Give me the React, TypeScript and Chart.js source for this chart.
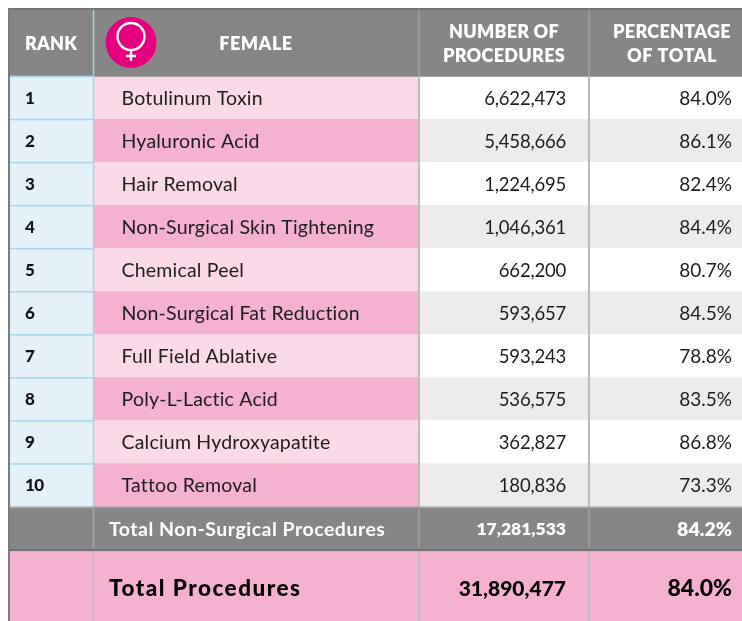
import React, { useEffect, useRef } from "react";
import { Chart, registerables } from "chart.js";

Chart.register(...registerables);

// ---- data ----
const ranks = ["1", "2", "3", "4", "5", "6", "7", "8", "9", "10"];
const procedures = [
  "Botulinum Toxin",
  "Hyaluronic Acid",
  "Hair Removal",
  "Non-Surgical Skin Tightening",
  "Chemical Peel",
  "Non-Surgical Fat Reduction",
  "Full Field Ablative",
  "Poly-L-Lactic Acid",
  "Calcium Hydroxyapatite",
  "Tattoo Removal",
];
const counts = [6622473, 5458666, 1224695, 1046361, 662200, 593657, 593243, 536575, 362827, 180836];
const percents = [84.0, 86.1, 82.4, 84.4, 80.7, 84.5, 78.8, 83.5, 86.8, 73.3];
const subtotalLabel = "Total Non-Surgical Procedures";
const subtotalCount = 17281533;
const subtotalPercent = 84.2;
const totalLabel = "Total Procedures";
const totalCount = 31890477;
const totalPercent = 84.0;
const headerRank = "RANK";
const headerName = "FEMALE";
const headerCount = ["NUMBER OF", "PROCEDURES"];
const headerPercent = ["PERCENTAGE", "OF TOTAL"];

// ---- layout (axis units equal table pixels) ----
const colEdges = [9, 93.5, 419, 589, 742];
const headerTop = 9;
const headerBottom = 76.5;
const rowHeight = 43.05;
const rowTop = (i: number) => headerBottom + i * rowHeight;
const rowsBottom = rowTop(ranks.length);
const subBottom = rowsBottom + rowHeight;
const tableBottom = 621;

const GRAY = "#868686";
const RANKBG = "#e4f1f9";
const PINK_L = "#fad9e9";
const PINK_D = "#f4b1d0";
const GRAY_L = "#ececec";
const BLUE = "#a9d4e9";
const RULE = "#bcbcbc";
const FONT = "Lato";

const fmt = (n: number) => n.toLocaleString("en-US");
const pct = (n: number) => n.toFixed(1) + "%";

const band = (label: string, color: string | string[], thickness: number, data: any[]) => ({
  label,
  data,
  backgroundColor: color,
  barThickness: thickness,
  grouped: false,
  borderWidth: 0,
});

export default function App() {
  const ref = useRef<HTMLCanvasElement>(null);

  useEffect(() => {
    const rowCenters = ranks.map((_, i) => rowTop(i) + rowHeight / 2);
    const tablePlugin = {
      id: "tableText",
      afterDatasetsDraw(chart: any) {
        const { ctx, scales } = chart;
        const X = (v: number) => scales.x.getPixelForValue(v);
        const Y = (v: number) => scales.y.getPixelForValue(v);
        const vline = (x: number, y0: number, y1: number, c: string, w = 2) => {
          ctx.fillStyle = c;
          ctx.fillRect(X(x) - w / 2, Y(y0), w, Y(y1) - Y(y0));
        };
        const hline = (x0: number, x1: number, y: number, c: string, w = 1.5) => {
          ctx.fillStyle = c;
          ctx.fillRect(X(x0), Y(y) - w / 2, X(x1) - X(x0), w);
        };
        const text = (
          s: string,
          x: number,
          y: number,
          font: string,
          color: string,
          align: CanvasTextAlign = "left",
          spacing = "0px",
        ) => {
          ctx.font = font;
          ctx.fillStyle = color;
          ctx.textAlign = align;
          ctx.textBaseline = "middle";
          (ctx as any).letterSpacing = spacing;
          ctx.fillText(s, X(x), Y(y));
          (ctx as any).letterSpacing = "0px";
        };

        ctx.save();
        // rules
        vline(colEdges[1], headerTop, rowsBottom, BLUE, 1.5);
        vline(colEdges[1], rowsBottom, tableBottom, RULE, 1.5);
        vline(colEdges[2], headerTop, tableBottom, RULE, 2);
        vline(colEdges[3], headerTop, tableBottom, RULE, 2);
        vline(colEdges[2], headerTop, headerBottom, "#9a9a9a", 2);
        vline(colEdges[3], headerTop, headerBottom, "#9a9a9a", 2);
        vline(colEdges[2], rowsBottom, subBottom, "#9a9a9a", 2);
        vline(colEdges[3], rowsBottom, subBottom, "#9a9a9a", 2);
        vline(colEdges[1], rowsBottom, subBottom, "#a0a0a0", 1.5);
        for (let i = 0; i <= ranks.length - 1; i++) {
          hline(colEdges[0], colEdges[1], rowTop(i), BLUE);
        }
        hline(colEdges[0] - 1, colEdges[4], headerTop, "#747474", 2);
        hline(colEdges[0] - 1, colEdges[4], subBottom, "#737373", 2);
        hline(colEdges[0] - 1, colEdges[4], rowsBottom, "#9a9a9a", 1);
        vline(colEdges[0], headerTop, tableBottom, "#7c7c7c", 2);

        // icon
        const cx = X(131);
        const cy = Y(42.5);
        ctx.fillStyle = "#e6007e";
        ctx.beginPath();
        ctx.arc(cx, cy, 25.5, 0, Math.PI * 2);
        ctx.fill();
        ctx.strokeStyle = "#ffffff";
        ctx.lineWidth = 2.4;
        ctx.beginPath();
        ctx.arc(cx, Y(36.5), 13.5, 0, Math.PI * 2);
        ctx.stroke();
        ctx.beginPath();
        ctx.moveTo(cx, Y(50));
        ctx.lineTo(cx, Y(61));
        ctx.moveTo(cx - 5, Y(56));
        ctx.lineTo(cx + 5, Y(56));
        ctx.stroke();

        // header
        const hb = `800 18px ${FONT}`;
        text(headerRank, 51, 44, hb, "#ffffff", "center", "0.2px");
        text(headerName, 256, 44, hb, "#ffffff", "center", "0.5px");
        text(headerCount[0], 504, 32.5, hb, "#ffffff", "center", "0.2px");
        text(headerCount[1], 504, 56, hb, "#ffffff", "center", "0.3px");
        text(headerPercent[0], 672, 32.5, hb, "#ffffff", "center", "0.3px");
        text(headerPercent[1], 672, 56, hb, "#ffffff", "center", "0.5px");

        // rows
        ranks.forEach((r, i) => {
          const y = rowCenters[i];
          text(r, 25, y + 0.5, `900 17px ${FONT}`, "#111111", "left", "-0.5px");
          text(procedures[i], 121.5, y + 0.5, `400 19.5px ${FONT}`, "#1d1d1d", "left", "0.2px");
          text(fmt(counts[i]), 566, y + 1, `400 18.5px ${FONT}`, "#1d1d1d", "right", "-0.2px");
          text(pct(percents[i]), 732, y + 0.5, `400 19px ${FONT}`, "#1d1d1d", "right");
        });

        // sub-total
        const sy = rowsBottom + rowHeight / 2;
        text(subtotalLabel, 109, sy + 1, `700 19.5px ${FONT}`, "#ffffff", "left", "0.5px");
        text(fmt(subtotalCount), 566, sy + 1, `800 17.5px ${FONT}`, "#ffffff", "right");
        text(pct(subtotalPercent), 732, sy + 1, `800 19.5px ${FONT}`, "#ffffff", "right");

        // total
        const ty = 589;
        text(totalLabel, 109, ty, `900 22.5px ${FONT}`, "#000000", "left", "1.5px");
        text(fmt(totalCount), 566, ty, `900 21px ${FONT}`, "#000000", "right");
        text(pct(totalPercent), 732, ty, `900 23px ${FONT}`, "#000000", "right");
        ctx.restore();
      },
    };

    const c = (i: number) => [colEdges[i], colEdges[i + 1]];
    const chart = new Chart(ref.current as HTMLCanvasElement, {
      type: "bar",
      data: {
        datasets: [
          band("header", GRAY, headerBottom - headerTop, [
            { x: [colEdges[0], colEdges[4]], y: (headerTop + headerBottom) / 2 },
          ]),
          band("rank", RANKBG, rowHeight + 0.5, rowCenters.map((y) => ({ x: c(0), y }))),
          band(
            "name",
            rowCenters.map((_, i) => (i % 2 ? PINK_D : PINK_L)),
            rowHeight + 0.5,
            rowCenters.map((y) => ({ x: c(1), y })),
          ),
          band(
            "count",
            rowCenters.map((_, i) => (i % 2 ? GRAY_L : "#ffffff")),
            rowHeight + 0.5,
            rowCenters.map((y) => ({ x: c(2), y })),
          ),
          band(
            "percent",
            rowCenters.map((_, i) => (i % 2 ? GRAY_L : "#ffffff")),
            rowHeight + 0.5,
            rowCenters.map((y) => ({ x: c(3), y })),
          ),
          band("subtotal", GRAY, subBottom - rowsBottom, [
            { x: [colEdges[0], colEdges[4]], y: (rowsBottom + subBottom) / 2 },
          ]),
          band("total", PINK_D, tableBottom - subBottom, [
            { x: [colEdges[0], colEdges[4]], y: (subBottom + tableBottom) / 2 },
          ]),
        ] as any,
      },
      options: {
        indexAxis: "y",
        animation: false,
        responsive: false,
        layout: { padding: 0 },
        scales: {
          x: { type: "linear", min: 0, max: 742, display: false },
          y: { type: "linear", min: 0, max: 621, reverse: true, display: false, offset: false },
        },
        plugins: { legend: { display: false }, tooltip: { enabled: false } },
      },
      plugins: [tablePlugin],
    } as any);
    return () => chart.destroy();
  }, []);

  return (
    <div style={{ position: "fixed", left: 0, top: 0, width: 742, height: 621, background: "#fff" }}>
      <canvas ref={ref} width={742} height={621} style={{ display: "block" }} />
    </div>
  );
}
